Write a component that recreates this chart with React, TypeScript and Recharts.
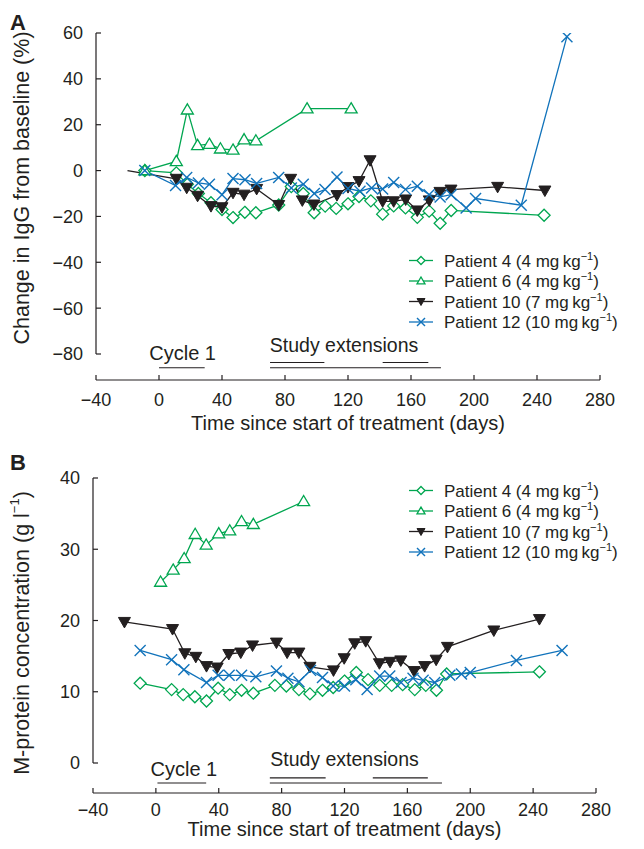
import React from 'react';
import { LineChart, Line, XAxis, YAxis, ReferenceLine, ReferenceDot, Label } from 'recharts';

const FONT = '"Liberation Sans", Arial, Helvetica, sans-serif';
const GREEN = '#00a650';
const BLUE = '#1173bb';
const BLACK = '#231f20';

const xTicks = [-40, 0, 40, 80, 120, 160, 200, 240, 280];
const yTicksA = [-80, -60, -40, -20, 0, 20, 40, 60];
const yTicksB = [0, 10, 20, 30, 40];

const legendNames = ['Patient 4', 'Patient 6', 'Patient 10', 'Patient 12'];
const legendDoses = ['4', '4', '7', '10'];

// Panel A: change in IgG from baseline (%), [day, value]
const p4A = [[-9, 0], [11, -1], [18, -6], [25, -10], [33, -14], [40, -17], [47, -20.5], [54.5, -18.2], [61.5, -18.4], [76, -15], [84, -7], [91.6, -10], [98.5, -18.4], [105.5, -15.5], [112.5, -16.5], [120, -14.5], [127, -11.3], [134.5, -13.2], [142, -19], [149, -15.4], [156.5, -16.3], [164, -20.4], [171.5, -17.7], [178.5, -23], [185.5, -17.4], [244.5, -19.5]];
const p6A = [[-9, 0], [11, 4], [18, 26.5], [24.5, 11], [32, 11.5], [39, 9.5], [47, 9], [54, 13.5], [61.5, 13], [94, 27], [122, 27]];
const p10A = [[-20, 0], [11, -3.6], [17.6, -7.5], [24.5, -11], [33, -15.5], [40, -16], [47, -9.7], [54, -10.5], [62, -8], [76, -15], [83.6, -3.6], [91, -13], [98.4, -14.8], [113, -10.7], [120, -7.2], [127, -4.6], [134, 4.5], [142, -13.4], [149, -13.4], [156.6, -12.6], [164, -17.4], [171.6, -13], [178.4, -9.3], [185.4, -8.3], [215, -7.1], [245, -8.7]];
const p12A = [[-9, 0], [10.5, -6.5], [17.6, -3], [25, -5.4], [32, -6], [40, -10.5], [47, -3.5], [54.6, -4], [62, -5.6], [76, -3], [84, -7.6], [91.6, -6], [98.6, -10], [105.4, -8.3], [113, -2.8], [120, -7.8], [127.6, -9], [135, -7.6], [142, -8], [149, -5.2], [156.5, -8.2], [164, -6.8], [171.5, -10.5], [178.5, -11.5], [185.5, -10.5], [195, -16.3], [201, -12.2], [230, -15.1], [259, 58.4]];

// Panel B: M-protein concentration (g/l), [day, value]
const p4B = [[-10, 11.2], [10, 10.3], [17.4, 9.6], [24.8, 9.3], [32.2, 8.7], [39.6, 10.5], [47, 9.6], [54.5, 10.2], [62, 9.8], [75.7, 10.9], [83, 10.8], [91, 10.3], [98, 9.7], [106, 10.2], [112.8, 10.6], [120, 11.5], [127.5, 12.7], [135, 11.7], [142.4, 10.9], [150, 10.9], [157, 11], [164.7, 10.3], [171.7, 10.9], [178.5, 10.2], [185, 12.5], [244, 12.8]];
const p6B = [[3, 25.4], [11, 27.1], [18, 28.7], [25, 32.1], [32, 30.6], [40, 32.2], [47, 32.6], [54.5, 33.9], [62, 33.5], [94, 36.7]];
const p10B = [[-20, 19.8], [10.6, 18.8], [18.4, 15.4], [25.4, 14.9], [32.2, 13.6], [39, 13.4], [46.4, 15.3], [54, 15.5], [61.5, 16.5], [76.7, 16.9], [83.5, 15.5], [91, 15.5], [98, 13.5], [113, 13], [119.8, 14.7], [126.5, 16.8], [133.5, 17.1], [142.2, 14], [149, 14.2], [155.8, 14.4], [164.3, 12.9], [171, 13.6], [178.3, 14.5], [185.5, 16.3], [215, 18.6], [244, 20.2]];
const p12B = [[-10, 15.8], [10, 14.5], [17.8, 13.1], [32.2, 11.3], [39.6, 12.3], [46.6, 12.3], [54.5, 12.3], [63.6, 12.1], [76.7, 12.9], [84, 11.9], [91, 11.4], [98.4, 13], [106, 12], [112.8, 10.8], [120, 10.8], [127.2, 11.7], [134.4, 10.3], [142.4, 12.2], [148.8, 12.2], [156, 11.3], [163.6, 11.9], [170, 11.6], [177.4, 11.3], [187, 12.3], [194.4, 12.5], [200, 12.7], [229.4, 14.4], [258.4, 15.8]];

// annotation bars: [startDay, endDay]
const cycleA = [0, 29];
const extUpperA = [[70.5, 105], [142, 171]];
const extLowerA = [70.5, 179];
const cycleB = [1, 32];
const extUpperB = [[72.5, 108], [138, 173]];
const extLowerB = [72.5, 182];

const toRows = (arr: number[][]) => arr.map(([day, v]) => ({ day, v }));

type Kind = 'diamond' | 'up' | 'down' | 'x';
const kinds: Kind[] = ['diamond', 'up', 'down', 'x'];
const colors = [GREEN, GREEN, BLACK, BLUE];

function marker(kind: Kind, cx: number, cy: number, s: number, color: string) {
  if (kind === 'diamond') {
    return <path d={`M${cx},${cy - s}L${cx + s},${cy}L${cx},${cy + s}L${cx - s},${cy}Z`} fill="#fff" stroke={color} strokeWidth={1.3} />;
  }
  if (kind === 'up') {
    return <path d={`M${cx},${cy - s}L${cx + s},${cy + s * 0.7}L${cx - s},${cy + s * 0.7}Z`} fill="#fff" stroke={color} strokeWidth={1.3} />;
  }
  if (kind === 'down') {
    return <path d={`M${cx - s},${cy - s * 0.75}L${cx + s},${cy - s * 0.75}L${cx},${cy + s}Z`} fill={color} stroke={color} strokeWidth={1} />;
  }
  return (
    <g>
      <line x1={cx - s} y1={cy - s} x2={cx + s} y2={cy + s} stroke={color} strokeWidth={1.4} />
      <line x1={cx - s} y1={cy + s} x2={cx + s} y2={cy - s} stroke={color} strokeWidth={1.4} />
    </g>
  );
}

const makeDot = (kind: Kind, color: string, size: number, hideFirst = false) => (props: any) => {
  const { cx, cy, index } = props;
  if (cx == null || cy == null || (hideFirst && index === 0)) return <g key={`d${index}`} />;
  return <g key={`d${index}`}>{marker(kind, cx, cy, size, color)}</g>;
};

const sizes = [6, 6, 6, 5.5];

function LegendBox(props: { left: number; top: number }) {
  return (
    <svg width={240} height={90} style={{ position: 'absolute', left: props.left, top: props.top, overflow: 'visible' }}>
      {legendNames.map((name, i) => {
        const y = 12.5 + i * 20.5;
        return (
          <g key={name}>
            <line x1={9} x2={33} y1={y} y2={y} stroke={colors[i]} strokeWidth={1.3} />
            {marker(kinds[i], 21, y, 4, colors[i])}
            <text x={44} y={y} dy="0.36em" fontSize={17} fill={BLACK} fontFamily={FONT}>
              {`${name} (${legendDoses[i]} mg\u2009kg`}
              <tspan dy={-7} fontSize={11}>{'\u22121'}</tspan>
              <tspan dy={7}>)</tspan>
            </text>
          </g>
        );
      })}
    </svg>
  );
}

const fmt = (v: number) => (v < 0 ? `\u2212${Math.abs(v)}` : `${v}`);
const tickStyle = { fontSize: 18, fill: BLACK, fontFamily: FONT };

function Panel(props: {
  series: number[][][];
  yDomain: [number, number];
  yTicks: number[];
  yTop: number;
  yBottom: number;
  width: number;
  height: number;
  marginTop: number;
  marginRight: number;
  yAxisWidth: number;
  xAxisHeight: number;
  marginBottom: number;
  xTickMargin: number;
  cycle: number[];
  extUpper: number[][];
  extLower: number[];
  cycleY: number;
  extUpperY: number;
  cycleText: [number, number];
  extText: [number, number];
  yTitle: React.ReactNode;
  yTitlePos: [number, number];
  xTitleY: number;
  hideFirstBlack: boolean;
}) {
  const p = props;
  const names = legendNames;
  return (
    <LineChart
      width={p.width}
      height={p.height}
      margin={{ top: p.marginTop, right: p.marginRight, left: 0, bottom: p.marginBottom }}
    >
      <XAxis
        type="number"
        dataKey="day"
        domain={[-40, 280]}
        ticks={xTicks}
        allowDataOverflow
        tickFormatter={fmt}
        tick={tickStyle}
        tickSize={-5}
        tickMargin={p.xTickMargin}
        height={p.xAxisHeight}
        stroke={BLACK}
        axisLine={{ stroke: BLACK, strokeWidth: 1.2 }}
        tickLine={{ stroke: BLACK, strokeWidth: 1.2 }}
      >
        <Label
          content={(lp: any) => {
            const vb = lp.viewBox || {};
            const cx = (vb.x ?? 0) + (vb.width ?? 0) / 2;
            return (
              <text x={cx} y={p.xTitleY} textAnchor="middle" fontSize={20} fill={BLACK} fontFamily={FONT}>
                Time since start of treatment (days)
              </text>
            );
          }}
        />
      </XAxis>
      <YAxis
        type="number"
        domain={p.yDomain}
        ticks={p.yTicks}
        allowDataOverflow
        tickFormatter={fmt}
        tick={tickStyle}
        tickSize={-5}
        tickMargin={18}
        width={p.yAxisWidth}
        axisLine={false}
        tickLine={{ stroke: BLACK, strokeWidth: 1.2 }}
      >
        <Label
          content={() => (
            <text
              x={p.yTitlePos[0]}
              y={p.yTitlePos[1]}
              transform={`rotate(-90 ${p.yTitlePos[0]} ${p.yTitlePos[1]})`}
              textAnchor="middle"
              dominantBaseline="central"
              fontSize={21.5}
              fill={BLACK}
              fontFamily={FONT}
            >
              {p.yTitle}
            </text>
          )}
        />
      </YAxis>
      <ReferenceLine
        segment={[{ x: -40, y: p.yBottom }, { x: -40, y: p.yTop }]}
        stroke={BLACK}
        strokeWidth={1.2}
        ifOverflow="visible"
      />
      <ReferenceLine segment={[{ x: p.cycle[0], y: p.cycleY }, { x: p.cycle[1], y: p.cycleY }]} stroke={BLACK} strokeWidth={1.2} ifOverflow="visible" />
      {p.extUpper.map((seg, i) => (
        <ReferenceLine key={`u${i}`} segment={[{ x: seg[0], y: p.extUpperY }, { x: seg[1], y: p.extUpperY }]} stroke={BLACK} strokeWidth={1.2} ifOverflow="visible" />
      ))}
      <ReferenceLine segment={[{ x: p.extLower[0], y: p.cycleY }, { x: p.extLower[1], y: p.cycleY }]} stroke={BLACK} strokeWidth={1.2} ifOverflow="visible" />
      <ReferenceDot
        x={p.cycleText[0]}
        y={p.cycleText[1]}
        r={0}
        fill="none"
        stroke="none"
        ifOverflow="visible"
        label={{ value: 'Cycle 1', position: 'center', fontSize: 20, fill: BLACK, fontFamily: FONT }}
      />
      <ReferenceDot
        x={p.extText[0]}
        y={p.extText[1]}
        r={0}
        fill="none"
        stroke="none"
        ifOverflow="visible"
        label={{ value: 'Study extensions', position: 'center', fontSize: 19.5, fill: BLACK, fontFamily: FONT }}
      />
      {p.series.map((s, i) => (
        <Line
          key={names[i]}
          name={names[i]}
          data={toRows(s)}
          dataKey="v"
          type="linear"
          stroke={colors[i]}
          strokeWidth={1.3}
          dot={makeDot(kinds[i], colors[i], sizes[i], i === 2 && p.hideFirstBlack)}
          activeDot={false}
          isAnimationActive={false}
        />
      ))}
    </LineChart>
  );
}

export default function App() {
  return (
    <div style={{ position: 'absolute', left: 0, top: 0, width: 644, height: 849, background: '#fff', fontFamily: FONT }}>
      <div style={{ position: 'absolute', left: 0, top: 0, width: 644, height: 440 }}>
        <Panel
          series={[p4A, p6A, p10A, p12A]}
          yDomain={[-91.34, 60]}
          yTicks={yTicksA}
          yTop={60}
          yBottom={-80}
          width={644}
          height={440}
          marginTop={33}
          marginRight={44}
          yAxisWidth={96}
          xAxisHeight={55}
          marginBottom={5}
          xTickMargin={18}
          cycle={cycleA}
          extUpper={extUpperA}
          extLower={extLowerA}
          cycleY={-86}
          extUpperY={-83.7}
          cycleText={[15, -79.4]}
          extText={[117.5, -75.9]}
          yTitle="Change in IgG from baseline (%)"
          yTitlePos={[22, 188]}
          xTitleY={430}
          hideFirstBlack={true}
        />
        <LegendBox left={400} top={248} />
        <svg style={{ position: 'absolute', left: 0, top: 0 }} width={40} height={40}>
          <text x={10} y={30} fontSize={22} fontWeight="bold" fill={BLACK} fontFamily={FONT}>A</text>
        </svg>
      </div>
      <div style={{ position: 'absolute', left: 0, top: 440, width: 644, height: 409 }}>
        <Panel
          series={[p4B, p6B, p10B, p12B]}
          yDomain={[-4.21, 40]}
          yTicks={yTicksB}
          yTop={40}
          yBottom={0}
          width={644}
          height={409}
          marginTop={38}
          marginRight={48}
          yAxisWidth={93}
          xAxisHeight={50}
          marginBottom={6}
          xTickMargin={15}
          cycle={cycleB}
          extUpper={extUpperB}
          extLower={extLowerB}
          cycleY={-2.81}
          extUpperY={-2.1}
          cycleText={[17.8, -0.84]}
          extText={[120, 0.56]}
          yTitle={<>M-protein concentration (g l<tspan dy={-8} fontSize={13}>{'\u22121'}</tspan><tspan dy={8}>)</tspan></>}
          yTitlePos={[22, 193]}
          xTitleY={396}
          hideFirstBlack={false}
        />
        <LegendBox left={400} top={38} />
        <svg style={{ position: 'absolute', left: 0, top: 0 }} width={40} height={40}>
          <text x={10} y={30} fontSize={22} fontWeight="bold" fill={BLACK} fontFamily={FONT}>B</text>
        </svg>
      </div>
    </div>
  );
}
